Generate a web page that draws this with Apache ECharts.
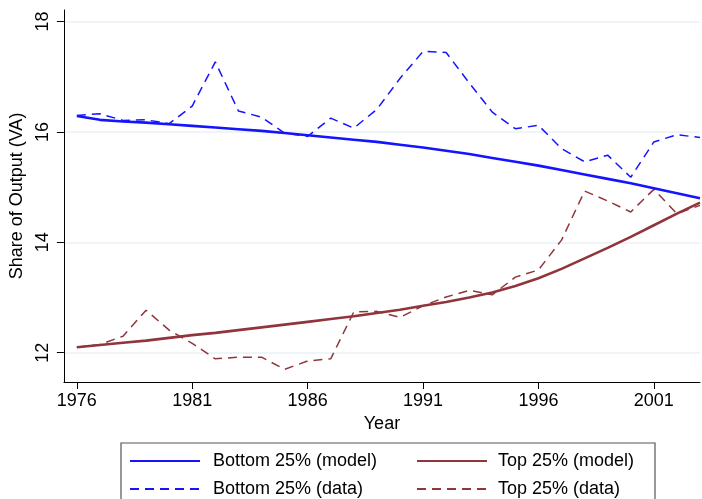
<!DOCTYPE html>
<html>
<head>
<meta charset="utf-8">
<script src="https://cdn.jsdelivr.net/npm/echarts@6/dist/echarts.min.js"></script>
<style>
  html, body { margin: 0; padding: 0; background: #fff; }
  #chart { width: 702px; height: 499px; }
</style>
</head>
<body>
<div id="chart"></div>
<script>
// Years 1976-2003
const years = [1976, 1977, 1978, 1979, 1980, 1981, 1982, 1983, 1984, 1985, 1986, 1987, 1988, 1989,
               1990, 1991, 1992, 1993, 1994, 1995, 1996, 1997, 1998, 1999, 2000, 2001, 2002, 2003];

// Share of output (VA), bottom 25%
const bottomModel = [16.29, 16.22, 16.19, 16.17, 16.14, 16.11, 16.08, 16.05, 16.02, 15.98, 15.94, 15.90, 15.86, 15.82,
                     15.77, 15.72, 15.66, 15.60, 15.53, 15.46, 15.39, 15.31, 15.23, 15.15, 15.07, 14.98, 14.89, 14.80];
const bottomData  = [16.30, 16.33, 16.21, 16.22, 16.15, 16.47, 17.27, 16.38, 16.27, 15.98, 15.92, 16.25, 16.07, 16.41,
                     16.97, 17.46, 17.44, 16.89, 16.36, 16.06, 16.12, 15.70, 15.46, 15.58, 15.18, 15.82, 15.95, 15.90];

// Share of output (VA), top 25%
const topModel = [12.10, 12.14, 12.18, 12.22, 12.27, 12.32, 12.36, 12.41, 12.46, 12.51, 12.56, 12.61, 12.66, 12.72,
                  12.78, 12.85, 12.92, 13.00, 13.09, 13.21, 13.35, 13.52, 13.71, 13.90, 14.10, 14.31, 14.52, 14.72];
const topData  = [12.10, 12.15, 12.30, 12.77, 12.41, 12.17, 11.89, 11.92, 11.92, 11.70, 11.85, 11.89, 12.74, 12.75,
                  12.64, 12.85, 13.01, 13.13, 13.05, 13.37, 13.50, 14.04, 14.93, 14.75, 14.55, 14.96, 14.52, 14.67];

// Axis ticks
const xTicks = [1976, 1981, 1986, 1991, 1996, 2001];
const yTicks = [12, 14, 16, 18];

const names = ['Bottom 25% (model)', 'Top 25% (model)', 'Bottom 25% (data)', 'Top 25% (data)'];

const BLUE = '#1414ff';
const MAROON = '#90353b';
const FONT = '"Liberation Sans", Arial, sans-serif';

const pairs = vals => years.map((y, i) => [y, vals[i]]);

const chart = echarts.init(document.getElementById('chart'), null, { renderer: 'canvas' });

const legendBase = {
  orient: 'vertical',
  top: 452,
  padding: 0,
  itemGap: 10,
  itemWidth: 70,
  itemHeight: 14,
  itemStyle: { opacity: 0 },
  textStyle: { fontSize: 18, fontFamily: FONT, color: '#000' }
};

chart.setOption({
  animation: false,
  backgroundColor: '#ffffff',
  textStyle: { fontFamily: FONT, color: '#000' },
  grid: { left: 63, right: 2, top: 10, bottom: 117, containLabel: false },
  xAxis: {
    type: 'value',
    min: 1975.44,
    max: 2003,
    name: 'Year',
    nameLocation: 'middle',
    nameGap: 33,
    nameTextStyle: { fontSize: 18, fontFamily: FONT, color: '#000' },
    axisLine: { show: true, lineStyle: { color: '#000', width: 1 } },
    axisTick: { show: true, length: 7, customValues: xTicks, lineStyle: { color: '#000', width: 1 } },
    axisLabel: {
      customValues: xTicks, fontSize: 18, fontFamily: FONT, color: '#000', margin: 10,
      formatter: v => String(v)
    },
    splitLine: { show: false }
  },
  yAxis: {
    type: 'value',
    min: 11.47,
    max: 18.21,
    name: 'Share of Output (VA)',
    nameLocation: 'middle',
    nameGap: 29,
    nameRotate: 90,
    nameTextStyle: { fontSize: 18, fontFamily: FONT, color: '#000' },
    axisLine: { show: true, lineStyle: { color: '#000', width: 1 } },
    axisTick: { show: true, length: 7, customValues: yTicks, lineStyle: { color: '#000', width: 1 } },
    axisLabel: {
      customValues: yTicks, rotate: 90, fontSize: 18, fontFamily: FONT, color: '#000', margin: 12,
      formatter: v => String(v)
    },
    splitLine: { show: true, lineStyle: { color: '#eaf0f3', width: 1.5 } }
  },
  legend: [
    Object.assign({}, legendBase, {
      data: [names[0], names[2]],
      left: 129,
      textStyle: Object.assign({}, legendBase.textStyle, { padding: [0, 0, 0, 8] })
    }),
    Object.assign({}, legendBase, {
      data: [names[1], names[3]],
      left: 416,
      textStyle: Object.assign({}, legendBase.textStyle, { padding: [0, 0, 0, 6] })
    })
  ],
  graphic: [
    {
      type: 'rect',
      shape: { x: 121, y: 443, width: 534, height: 70 },
      style: { fill: 'none', stroke: '#555', lineWidth: 1.2 },
      silent: true,
      z: 0
    }
  ],
  series: [
    {
      name: names[0], type: 'line', data: pairs(bottomModel), symbol: 'none',
      color: BLUE, lineStyle: { color: BLUE, width: 2.6, type: 'solid' }, z: 4
    },
    {
      name: names[1], type: 'line', data: pairs(topModel), symbol: 'none',
      color: MAROON, lineStyle: { color: MAROON, width: 2.6, type: 'solid' }, z: 4
    },
    {
      name: names[2], type: 'line', data: pairs(bottomData), symbol: 'none',
      color: BLUE, lineStyle: { color: BLUE, width: 1.5, type: [9, 6] }, z: 3
    },
    {
      name: names[3], type: 'line', data: pairs(topData), symbol: 'none',
      color: MAROON, lineStyle: { color: MAROON, width: 1.5, type: [9, 6] }, z: 3
    }
  ]
});
</script>
</body>
</html>
